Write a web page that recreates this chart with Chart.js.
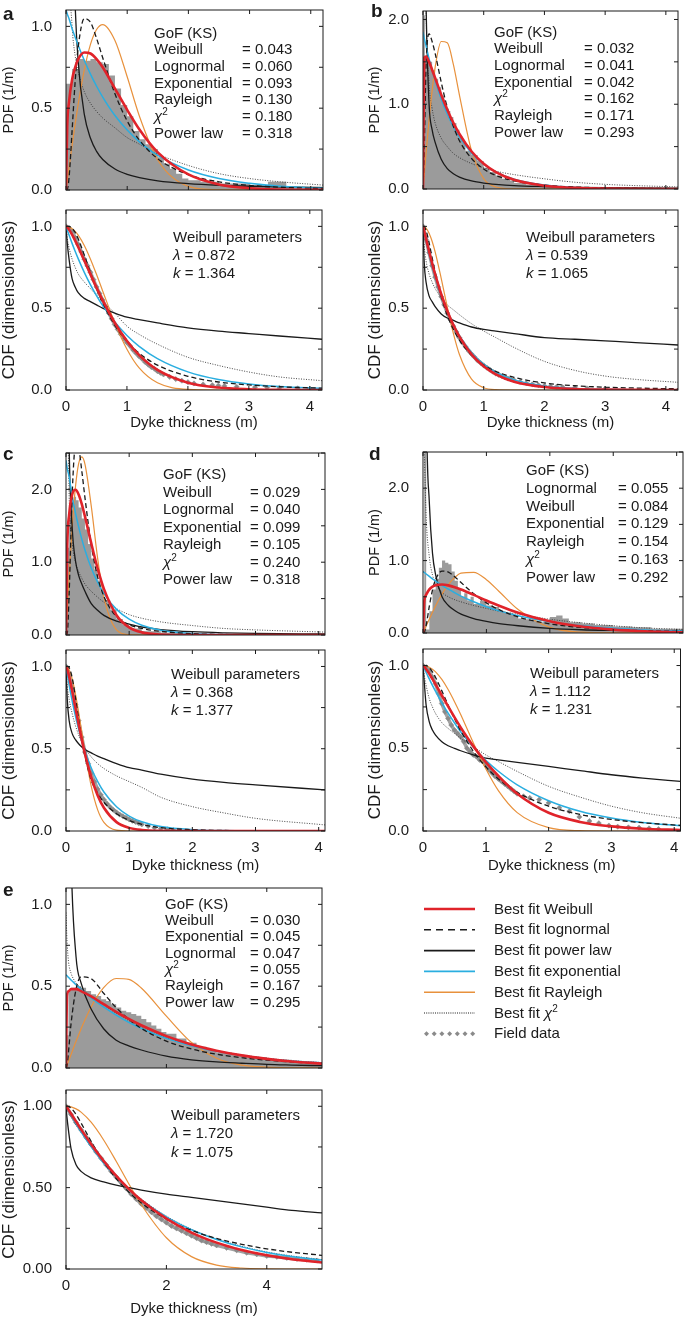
<!DOCTYPE html>
<html>
<head>
<meta charset="utf-8">
<title>Dyke thickness distributions</title>
<script src="https://cdn.jsdelivr.net/npm/chart.js@4.4.1/dist/chart.umd.min.js"></script>
<style>
  html, body { margin: 0; padding: 0; background: #fff; }
  body { position: relative; width: 685px; height: 1318px; overflow: hidden;
         font-family: "Liberation Sans", Arial, Helvetica, sans-serif; color: #1a1a1a; }
  canvas { position: absolute; }
  .txt { position: absolute; font-size: 15px; white-space: nowrap; z-index: 2; }
  .txt .row { position: relative; }
  .txt sup { font-size: 10px; line-height: 0; vertical-align: 6px; }
  .letter { position: absolute; font-size: 19px; font-weight: bold; line-height: 19px; z-index: 2; }
</style>
</head>
<body>
<script>
// ---------- panel a ----------
const xA = [0, 0.02, 0.05, 0.1, 0.15, 0.2, 0.3, 0.4, 0.5, 0.6, 0.8, 1.0, 1.2, 1.5, 2.0, 2.5, 3.0, 3.5, 4.2];
const pdfA_weib = [0, 0.39, 0.54, 0.675, 0.75, 0.80, 0.84, 0.834, 0.80, 0.75, 0.62, 0.49, 0.37, 0.23, 0.095, 0.034, 0.011, 0.003, 0.0005];
const pdfA_logn = [0, 0.003, 0.075, 0.365, 0.665, 0.875, 1.048, 1.025, 0.926, 0.808, 0.588, 0.422, 0.305, 0.191, 0.094, 0.050, 0.028, 0.017, 0.009];
const pdfA_expo = [1.1, 1.076, 1.047, 0.985, 0.934, 0.883, 0.791, 0.708, 0.634, 0.568, 0.455, 0.366, 0.294, 0.211, 0.122, 0.070, 0.041, 0.023, 0.011];
const pdfA_pow  = [null, 11, 4.6, 1.92, 1.13, 0.78, 0.46, 0.316, 0.236, 0.186, 0.128, 0.096, 0.076, 0.056, 0.039, 0.029, 0.023, 0.019, 0.015];
const pdfA_rayl = [0, 0.056, 0.138, 0.274, 0.404, 0.526, 0.735, 0.890, 0.981, 1.011, 0.914, 0.692, 0.451, 0.183, 0.022, 0.001, 0, 0, 0];
const pdfA_chi  = [null, 2.4, 1.45, 1.0, 0.82, 0.72, 0.6, 0.53, 0.48, 0.44, 0.38, 0.32, 0.28, 0.22, 0.15, 0.10, 0.07, 0.05, 0.03];
const cdfA_weib = [1, 0.994, 0.980, 0.949, 0.913, 0.874, 0.792, 0.708, 0.626, 0.549, 0.411, 0.299, 0.213, 0.123, 0.045, 0.015, 0.0045, 0.001, 0];
const cdfA_logn = [1, 1, 0.999, 0.989, 0.963, 0.924, 0.825, 0.720, 0.622, 0.536, 0.397, 0.297, 0.225, 0.152, 0.084, 0.049, 0.031, 0.020, 0.011];
const cdfA_expo = [1, 0.978, 0.947, 0.896, 0.848, 0.803, 0.719, 0.644, 0.577, 0.517, 0.415, 0.333, 0.267, 0.192, 0.111, 0.064, 0.037, 0.021, 0.0098];
const cdfA_pow  = [1, 0.90, 0.80, 0.68, 0.63, 0.595, 0.56, 0.54, 0.52, 0.50, 0.47, 0.445, 0.43, 0.41, 0.38, 0.36, 0.345, 0.33, 0.31];
const cdfA_rayl = [1, 0.999, 0.997, 0.986, 0.969, 0.946, 0.883, 0.801, 0.707, 0.607, 0.411, 0.249, 0.135, 0.044, 0.004, 0, 0, 0, 0];
const cdfA_chi  = [1, 0.93, 0.87, 0.80, 0.75, 0.71, 0.66, 0.62, 0.58, 0.54, 0.47, 0.39, 0.34, 0.28, 0.20, 0.15, 0.11, 0.08, 0.057];
const histA_x = [0, 0.1, 0.2, 0.3, 0.4, 0.5, 0.6, 0.7, 0.8, 0.9, 1.0, 1.1, 1.2, 1.3, 1.4, 1.5, 1.6, 1.7, 1.8, 1.9, 2.0, 2.2, 2.5, 3.0, 3.3, 3.6, 4.2];
const histA_y = [0.65, 0.74, 0.80, 0.79, 0.80, 0.78, 0.77, 0.70, 0.62, 0.52, 0.45, 0.36, 0.31, 0.28, 0.25, 0.20, 0.16, 0.13, 0.10, 0.07, 0.06, 0.05, 0.04, 0.03, 0.05, 0.02, 0];
const fieldA_x = [0, 0.05, 0.1, 0.15, 0.2, 0.25, 0.3, 0.35, 0.4, 0.45, 0.5, 0.55, 0.6, 0.65, 0.7, 0.75, 0.8, 0.85, 0.9, 0.95, 1.0, 1.05, 1.1, 1.15, 1.2, 1.25, 1.3, 1.35, 1.4, 1.45, 1.5, 1.55, 1.6, 1.7, 1.8, 1.9, 2.0, 2.1, 2.25, 2.4, 2.5, 2.6, 2.8, 3.1, 3.3, 3.5, 3.8, 4.0];
const fieldA_y = [1.0, 0.99, 0.97, 0.93, 0.89, 0.845, 0.80, 0.76, 0.72, 0.675, 0.63, 0.59, 0.55, 0.51, 0.47, 0.435, 0.40, 0.37, 0.34, 0.315, 0.29, 0.27, 0.245, 0.225, 0.205, 0.19, 0.17, 0.155, 0.14, 0.13, 0.115, 0.105, 0.095, 0.08, 0.067, 0.057, 0.048, 0.04, 0.034, 0.03, 0.027, 0.025, 0.02, 0.017, 0.015, 0.013, 0.01, 0.007];
const gofA_names = ['Weibull', 'Lognormal', 'Exponential', 'Rayleigh', 'χ2', 'Power law'];
const gofA_vals = ['0.043', '0.060', '0.093', '0.130', '0.180', '0.318'];
const parA = ['0.872', '1.364'];

// ---------- panel b ----------
const xB = [0, 0.02, 0.05, 0.1, 0.15, 0.2, 0.3, 0.4, 0.5, 0.6, 0.8, 1.0, 1.2, 1.5, 2.0, 2.5, 3.0, 3.5, 4.2];
const pdfB_weib = [0, 1.547, 1.564, 1.50, 1.407, 1.309, 1.113, 0.936, 0.781, 0.649, 0.442, 0.298, 0.200, 0.108, 0.038, 0.013, 0.004, 0.0014, 0];
const pdfB_logn = [0, 0.45, 1.45, 1.83, 1.74, 1.6, 1.26, 0.96, 0.74, 0.57, 0.36, 0.235, 0.16, 0.096, 0.046, 0.024, 0.014, 0.009, 0.005];
const pdfB_expo = [1.85, 1.78, 1.69, 1.537, 1.40, 1.278, 1.063, 0.884, 0.735, 0.611, 0.423, 0.292, 0.202, 0.115, 0.046, 0.018, 0.007, 0.003, 0.001];
const pdfB_pow  = [null, 4, 2.2, 1.0, 0.7, 0.55, 0.35, 0.24, 0.18, 0.14, 0.095, 0.07, 0.055, 0.04, 0.028, 0.02, 0.015, 0.012, 0.009];
const pdfB_rayl = [0, 0.17, 0.421, 0.815, 1.16, 1.436, 1.74, 1.724, 1.47, 1.108, 0.449, 0.121, 0.023, 0.001, 0, 0, 0, 0, 0];
const pdfB_chi  = [null, 5, 2.2, 1.25, 0.95, 0.78, 0.6, 0.5, 0.42, 0.37, 0.3, 0.25, 0.21, 0.17, 0.12, 0.08, 0.055, 0.04, 0.025];
const cdfB_weib = [1, 0.970, 0.924, 0.847, 0.774, 0.706, 0.585, 0.483, 0.397, 0.326, 0.218, 0.145, 0.096, 0.051, 0.018, 0.006, 0.002, 0.0007, 0];
const cdfB_logn = [1, 0.998, 0.976, 0.900, 0.809, 0.722, 0.572, 0.458, 0.371, 0.305, 0.212, 0.153, 0.114, 0.077, 0.043, 0.026, 0.017, 0.012, 0.007];
const cdfB_expo = [1, 0.964, 0.912, 0.831, 0.758, 0.691, 0.574, 0.477, 0.397, 0.330, 0.228, 0.157, 0.109, 0.062, 0.025, 0.0098, 0.0039, 0.0015, 0.0004];
const cdfB_pow  = [1, 0.78, 0.66, 0.575, 0.54, 0.51, 0.465, 0.44, 0.425, 0.41, 0.385, 0.37, 0.36, 0.345, 0.32, 0.31, 0.30, 0.29, 0.275];
const cdfB_rayl = [1, 0.998, 0.989, 0.958, 0.909, 0.844, 0.682, 0.507, 0.346, 0.217, 0.066, 0.014, 0.002, 0, 0, 0, 0, 0, 0];
const cdfB_chi  = [1, 0.88, 0.79, 0.71, 0.66, 0.62, 0.565, 0.52, 0.49, 0.46, 0.405, 0.36, 0.32, 0.26, 0.175, 0.12, 0.085, 0.065, 0.047];
const histB_x = [0, 0.03, 0.1, 0.15, 0.2, 0.25, 0.3, 0.35, 0.4, 0.45, 0.5, 0.55, 0.6, 0.65, 0.7, 0.8, 0.9, 1.0, 1.1, 1.2, 1.3, 1.4, 1.5, 1.7, 1.9, 2.2, 2.6, 3.0];
const histB_y = [2.05, 1.55, 1.5, 1.4, 1.3, 1.2, 1.1, 1.0, 0.92, 0.85, 0.78, 0.7, 0.62, 0.55, 0.45, 0.4, 0.33, 0.25, 0.2, 0.16, 0.12, 0.1, 0.07, 0.05, 0.035, 0.02, 0.01, 0];
const fieldB_x = [0, 0.05, 0.1, 0.15, 0.2, 0.25, 0.3, 0.35, 0.4, 0.45, 0.5, 0.55, 0.6, 0.65, 0.7, 0.75, 0.8, 0.85, 0.9, 0.95, 1.0, 1.05, 1.1, 1.15, 1.2, 1.25, 1.3, 1.35, 1.4, 1.45, 1.5, 1.6, 1.7, 1.8, 1.9, 2.0, 2.1, 2.2, 2.3, 2.5, 2.7, 3.0];
const fieldB_y = [1, 0.92, 0.84, 0.76, 0.69, 0.63, 0.57, 0.52, 0.47, 0.43, 0.39, 0.355, 0.32, 0.29, 0.265, 0.24, 0.22, 0.2, 0.18, 0.165, 0.15, 0.137, 0.125, 0.112, 0.10, 0.092, 0.085, 0.077, 0.07, 0.065, 0.06, 0.05, 0.042, 0.035, 0.03, 0.025, 0.022, 0.02, 0.017, 0.013, 0.01, 0.008];
const gofB_names = ['Weibull', 'Lognormal', 'Exponential', 'χ2', 'Rayleigh', 'Power law'];
const gofB_vals = ['0.032', '0.041', '0.042', '0.162', '0.171', '0.293'];
const parB = ['0.539', '1.065'];

// ---------- panel c ----------
const xC = [0, 0.02, 0.05, 0.1, 0.15, 0.2, 0.25, 0.3, 0.4, 0.5, 0.6, 0.8, 1.0, 1.2, 1.5, 2, 2.5, 3, 4.1];
const pdfC_weib = [0, 1.226, 1.654, 1.939, 1.995, 1.931, 1.798, 1.629, 1.258, 0.914, 0.634, 0.272, 0.104, 0.036, 0.007, 0, 0, 0, 0];
const pdfC_logn = [0, 0.025, 0.572, 1.976, 2.588, 2.557, 2.254, 1.887, 1.241, 0.8, 0.53, 0.25, 0.14, 0.09, 0.05, 0.018, 0.007, 0.003, 0];
const pdfC_expo = [2.4, 2.287, 2.172, 1.887, 1.674, 1.486, 1.317, 1.168, 0.919, 0.726, 0.569, 0.352, 0.218, 0.135, 0.066, 0.020, 0.006, 0.002, 0];
const pdfC_pow  = [null, 5, 2.6, 1.45, 1.02, 0.82, 0.7, 0.6, 0.43, 0.34, 0.27, 0.19, 0.15, 0.11, 0.075, 0.045, 0.03, 0.022, 0.014];
const pdfC_rayl = [0, 0.325, 0.799, 1.503, 2.036, 2.354, 2.448, 2.348, 1.770, 1.060, 0.519, 0.071, 0.005, 0, 0, 0, 0, 0, 0];
const pdfC_chi  = [null, 3.5, 1.9, 1.25, 1.0, 0.87, 0.78, 0.7, 0.6, 0.52, 0.45, 0.36, 0.28, 0.23, 0.18, 0.13, 0.09, 0.07, 0.04];
const cdfC_weib = [1, 0.982, 0.938, 0.847, 0.748, 0.649, 0.556, 0.470, 0.326, 0.218, 0.141, 0.054, 0.019, 0.006, 0.001, 0, 0, 0, 0];
const cdfC_logn = [1, 1, 0.993, 0.927, 0.810, 0.679, 0.558, 0.455, 0.31, 0.23, 0.175, 0.105, 0.065, 0.04, 0.02, 0.008, 0.003, 0.001, 0];
const cdfC_expo = [1, 0.953, 0.887, 0.787, 0.698, 0.619, 0.549, 0.487, 0.383, 0.301, 0.237, 0.147, 0.091, 0.056, 0.027, 0.008, 0.0025, 0.0008, 0];
const cdfC_pow  = [1, 0.80, 0.67, 0.59, 0.555, 0.53, 0.51, 0.495, 0.475, 0.455, 0.44, 0.41, 0.385, 0.37, 0.345, 0.315, 0.295, 0.28, 0.25];
const cdfC_rayl = [1, 0.997, 0.980, 0.922, 0.832, 0.721, 0.600, 0.480, 0.271, 0.130, 0.053, 0.005, 0, 0, 0, 0, 0, 0, 0];
const cdfC_chi  = [1, 0.88, 0.80, 0.71, 0.64, 0.585, 0.54, 0.505, 0.45, 0.41, 0.38, 0.335, 0.30, 0.265, 0.205, 0.148, 0.11, 0.077, 0.037];
const histC_x = [0, 0.02, 0.05, 0.08, 0.12, 0.16, 0.2, 0.25, 0.3, 0.35, 0.4, 0.45, 0.5, 0.55, 0.6, 0.7, 0.8, 0.9, 1.0, 1.2, 1.5, 2.0, 3.0, 4.0];
const histC_y = [0.3, 1.2, 1.7, 1.85, 1.9, 1.85, 1.75, 1.6, 1.45, 1.25, 1.05, 0.9, 0.75, 0.6, 0.48, 0.35, 0.22, 0.14, 0.09, 0.05, 0.03, 0.015, 0.005, 0];
const fieldC_x = [0, 0.05, 0.1, 0.15, 0.2, 0.25, 0.3, 0.35, 0.4, 0.45, 0.5, 0.55, 0.6, 0.65, 0.7, 0.75, 0.8, 0.85, 0.9, 0.95, 1.0, 1.05, 1.1, 1.15, 1.2, 1.3, 1.4, 1.5, 1.6, 1.7];
const fieldC_y = [1, 0.95, 0.87, 0.77, 0.67, 0.57, 0.48, 0.41, 0.35, 0.30, 0.255, 0.22, 0.19, 0.165, 0.145, 0.128, 0.113, 0.1, 0.09, 0.08, 0.07, 0.062, 0.055, 0.047, 0.04, 0.03, 0.02, 0.015, 0.01, 0.006];
const gofC_names = ['Weibull', 'Lognormal', 'Exponential', 'Rayleigh', 'χ2', 'Power law'];
const gofC_vals = ['0.029', '0.040', '0.099', '0.105', '0.240', '0.318'];
const parC = ['0.368', '1.377'];

// ---------- panel d ----------
const xD = [0, 0.02, 0.05, 0.1, 0.15, 0.2, 0.3, 0.4, 0.5, 0.6, 0.8, 1, 1.2, 1.5, 2, 2.5, 3, 3.5, 4.1];
const pdfD_weib = [0, 0.435, 0.529, 0.602, 0.640, 0.660, 0.670, 0.658, 0.633, 0.601, 0.527, 0.449, 0.376, 0.280, 0.162, 0.089, 0.047, 0.024, 0.010];
const pdfD_logn = [0, 0.008, 0.105, 0.371, 0.596, 0.742, 0.856, 0.842, 0.777, 0.697, 0.542, 0.416, 0.322, 0.222, 0.126, 0.076, 0.048, 0.032, 0.020];
const pdfD_expo = [0.85, 0.836, 0.815, 0.781, 0.748, 0.718, 0.659, 0.605, 0.556, 0.510, 0.431, 0.363, 0.306, 0.238, 0.155, 0.101, 0.066, 0.043, 0.026];
const pdfD_pow  = [null, 9, 3.5, 1.8, 1.1, 0.8, 0.5, 0.38, 0.31, 0.26, 0.2, 0.16, 0.13, 0.1, 0.065, 0.045, 0.035, 0.028, 0.022];
const pdfD_rayl = [0, 0.039, 0.098, 0.194, 0.287, 0.376, 0.538, 0.669, 0.766, 0.826, 0.837, 0.736, 0.574, 0.325, 0.078, 0.011, 0.001, 0, 0];
const pdfD_chi  = [null, 2.5, 1.6, 1.05, 0.8, 0.68, 0.56, 0.5, 0.46, 0.43, 0.38, 0.34, 0.3, 0.26, 0.19, 0.14, 0.1, 0.07, 0.05];
const cdfD_weib = [1, 0.993, 0.978, 0.950, 0.919, 0.886, 0.819, 0.753, 0.688, 0.626, 0.513, 0.416, 0.333, 0.225, 0.11, 0.055, 0.028, 0.014, 0.006];
const cdfD_logn = [1, 1, 0.999, 0.987, 0.962, 0.928, 0.847, 0.761, 0.680, 0.606, 0.483, 0.388, 0.315, 0.234, 0.150, 0.100, 0.070, 0.050, 0.034];
const cdfD_expo = [1, 0.983, 0.958, 0.919, 0.880, 0.844, 0.775, 0.712, 0.654, 0.600, 0.507, 0.427, 0.361, 0.279, 0.183, 0.119, 0.078, 0.051, 0.031];
const cdfD_pow  = [1, 0.9, 0.76, 0.66, 0.61, 0.58, 0.54, 0.515, 0.5, 0.485, 0.46, 0.44, 0.43, 0.415, 0.39, 0.365, 0.34, 0.32, 0.30];
const cdfD_rayl = [1, 1, 0.998, 0.990, 0.978, 0.962, 0.916, 0.855, 0.783, 0.704, 0.534, 0.376, 0.244, 0.111, 0.020, 0.002, 0, 0, 0];
const cdfD_chi  = [1, 0.94, 0.88, 0.80, 0.75, 0.71, 0.655, 0.62, 0.59, 0.56, 0.51, 0.46, 0.42, 0.36, 0.27, 0.205, 0.15, 0.11, 0.077];
const histD_x = [0, 0.02, 0.05, 0.1, 0.15, 0.2, 0.25, 0.3, 0.35, 0.4, 0.45, 0.5, 0.55, 0.6, 0.65, 0.7, 0.75, 0.8, 0.9, 1.0, 1.1, 1.2, 1.3, 1.4, 1.5, 1.6, 1.7, 1.8, 1.9, 2.0, 2.1, 2.2, 2.3, 2.5, 2.7, 3.0, 3.3, 3.6, 4.1];
const histD_y = [0, 2.6, 0.05, 0.3, 0.6, 0.75, 0.9, 1.0, 0.97, 0.95, 0.85, 0.72, 0.6, 0.5, 0.55, 0.45, 0.5, 0.4, 0.45, 0.38, 0.36, 0.3, 0.28, 0.25, 0.2, 0.19, 0.17, 0.15, 0.16, 0.22, 0.24, 0.2, 0.15, 0.13, 0.11, 0.09, 0.08, 0.06, 0];
const fieldD_x = [0, 0.05, 0.1, 0.15, 0.2, 0.25, 0.3, 0.35, 0.4, 0.45, 0.5, 0.55, 0.6, 0.65, 0.7, 0.75, 0.8, 0.85, 0.9, 0.95, 1.0, 1.05, 1.1, 1.15, 1.2, 1.25, 1.3, 1.35, 1.4, 1.45, 1.5, 1.6, 1.7, 1.85, 2.0, 2.17, 2.33, 2.49, 2.65, 2.8, 2.96, 3.1, 3.27, 3.44, 3.6, 3.75];
const fieldD_y = [1, 0.99, 0.97, 0.93, 0.89, 0.83, 0.77, 0.72, 0.68, 0.64, 0.61, 0.59, 0.57, 0.54, 0.5, 0.48, 0.46, 0.45, 0.43, 0.42, 0.40, 0.37, 0.35, 0.33, 0.315, 0.30, 0.285, 0.27, 0.255, 0.24, 0.225, 0.21, 0.2, 0.19, 0.17, 0.14, 0.12, 0.085, 0.06, 0.047, 0.033, 0.026, 0.022, 0.02, 0.016, 0.012];
const gofD_names = ['Lognormal', 'Weibull', 'Exponential', 'Rayleigh', 'χ2', 'Power law'];
const gofD_vals = ['0.055', '0.084', '0.129', '0.154', '0.163', '0.292'];
const parD = ['1.112', '1.231'];

// ---------- panel e ----------
const xE = [0, 0.02, 0.05, 0.1, 0.2, 0.3, 0.5, 0.75, 1, 1.25, 1.5, 2, 2.5, 3, 3.5, 4, 4.5, 5.1];
const pdfE_weib = [0, 0.444, 0.469, 0.482, 0.482, 0.470, 0.437, 0.390, 0.343, 0.300, 0.261, 0.195, 0.144, 0.106, 0.077, 0.056, 0.040, 0.027];
const pdfE_logn = [0, 0.014, 0.099, 0.269, 0.482, 0.557, 0.546, 0.457, 0.369, 0.298, 0.242, 0.164, 0.116, 0.084, 0.063, 0.048, 0.037, 0.028];
const pdfE_expo = [0.57, 0.564, 0.554, 0.538, 0.509, 0.480, 0.429, 0.373, 0.323, 0.279, 0.242, 0.181, 0.136, 0.102, 0.076, 0.057, 0.043, 0.031];
const pdfE_pow  = [null, 6, 2.4, 1.3, 0.68, 0.52, 0.36, 0.24, 0.17, 0.135, 0.11, 0.072, 0.05, 0.037, 0.029, 0.022, 0.018, 0.014];
const pdfE_rayl = [0, 0.017, 0.041, 0.082, 0.163, 0.239, 0.373, 0.491, 0.547, 0.542, 0.489, 0.317, 0.156, 0.060, 0.018, 0.005, 0.001, 0];
const pdfE_chi  = [0.95, 0.78, 0.65, 0.58, 0.52, 0.49, 0.44, 0.385, 0.335, 0.29, 0.25, 0.185, 0.14, 0.105, 0.08, 0.06, 0.045, 0.033];
const cdfE_weib = [1, 0.992, 0.978, 0.954, 0.906, 0.858, 0.767, 0.664, 0.572, 0.492, 0.422, 0.309, 0.224, 0.162, 0.117, 0.084, 0.060, 0.040];
const cdfE_logn = [1, 1, 0.998, 0.989, 0.950, 0.897, 0.785, 0.659, 0.556, 0.473, 0.406, 0.306, 0.237, 0.188, 0.152, 0.124, 0.103, 0.084];
const cdfE_expo = [1, 0.989, 0.972, 0.945, 0.892, 0.843, 0.752, 0.652, 0.566, 0.490, 0.425, 0.320, 0.241, 0.181, 0.136, 0.102, 0.077, 0.055];
const cdfE_pow  = [1, 0.93, 0.85, 0.74, 0.64, 0.6, 0.56, 0.535, 0.515, 0.5, 0.485, 0.46, 0.44, 0.42, 0.40, 0.38, 0.36, 0.345];
const cdfE_rayl = [1, 1, 0.999, 0.996, 0.984, 0.964, 0.902, 0.793, 0.662, 0.524, 0.395, 0.192, 0.076, 0.024, 0.006, 0.001, 0, 0];
const cdfE_chi  = [1, 0.985, 0.965, 0.935, 0.885, 0.84, 0.75, 0.655, 0.57, 0.495, 0.43, 0.325, 0.245, 0.185, 0.14, 0.105, 0.08, 0.058];
const histE_x = [0, 0.05, 0.1, 0.2, 0.3, 0.4, 0.5, 0.6, 0.7, 0.8, 0.9, 1.0, 1.1, 1.2, 1.3, 1.4, 1.5, 1.6, 1.7, 1.8, 1.9, 2.0, 2.2, 2.4, 2.6, 2.8, 3.0, 3.3, 3.6, 4.0, 4.5, 5.1];
const histE_y = [0.2, 0.47, 0.49, 0.5, 0.49, 0.47, 0.45, 0.44, 0.42, 0.41, 0.39, 0.37, 0.35, 0.34, 0.33, 0.32, 0.30, 0.28, 0.26, 0.24, 0.22, 0.21, 0.18, 0.155, 0.13, 0.11, 0.095, 0.08, 0.065, 0.05, 0.035, 0];
const fieldE_x = [0, 0.1, 0.2, 0.3, 0.4, 0.5, 0.6, 0.7, 0.8, 0.9, 1.0, 1.1, 1.2, 1.3, 1.4, 1.5, 1.6, 1.7, 1.8, 1.9, 2.0, 2.1, 2.2, 2.3, 2.4, 2.5, 2.6, 2.7, 2.8, 2.9, 3.0, 3.2, 3.4, 3.6, 3.8, 4.0, 4.2, 4.4, 4.6, 4.8, 5.0];
const fieldE_y = [1, 0.95, 0.9, 0.855, 0.81, 0.765, 0.72, 0.68, 0.64, 0.60, 0.565, 0.53, 0.495, 0.46, 0.43, 0.40, 0.375, 0.35, 0.325, 0.305, 0.285, 0.265, 0.25, 0.235, 0.22, 0.205, 0.19, 0.175, 0.165, 0.155, 0.145, 0.13, 0.115, 0.10, 0.09, 0.08, 0.075, 0.068, 0.062, 0.057, 0.052];
const gofE_names = ['Weibull', 'Exponential', 'Lognormal', 'χ2', 'Rayleigh', 'Power law'];
const gofE_vals = ['0.030', '0.045', '0.047', '0.055', '0.167', '0.295'];
const parE = ['1.720', '1.075'];

const legendLabels = ['Best fit Weibull', 'Best fit lognormal', 'Best fit power law', 'Best fit exponential', 'Best fit Rayleigh', 'Best fit χ2', 'Field data'];

// ---------- drawing ----------
Chart.defaults.font.family = '"Liberation Sans", Arial, Helvetica, sans-serif';
Chart.defaults.font.size = 15;
Chart.defaults.color = '#1a1a1a';

const RED = '#e0232a', CYAN = '#2aaee0', ORANGE = '#e8913c', HIST = '#9b9b9b', FIELD = '#8a8a8a', INK = '#1a1a1a';

// box round the plot area, with inward ticks on all four sides
const frame = {
  id: 'frame',
  afterDatasetsDraw(chart) {
    const { ctx, chartArea: a, scales: { x, y } } = chart;
    ctx.save();
    ctx.strokeStyle = INK;
    ctx.lineWidth = 1;
    ctx.strokeRect(a.left, a.top, a.right - a.left, a.bottom - a.top);
    ctx.beginPath();
    x.ticks.forEach(t => {
      const px = x.getPixelForValue(t.value);
      ctx.moveTo(px, a.bottom); ctx.lineTo(px, a.bottom - 4);
      ctx.moveTo(px, a.top); ctx.lineTo(px, a.top + 4);
    });
    y.ticks.forEach(t => {
      const py = y.getPixelForValue(t.value);
      ctx.moveTo(a.left, py); ctx.lineTo(a.left + 4, py);
      ctx.moveTo(a.right, py); ctx.lineTo(a.right - 4, py);
    });
    ctx.stroke();
    ctx.restore();
  }
};

function pts(xs, ys) {
  return ys.map((y, i) => ({ x: xs[i], y: y }));
}

function curves(xs, weib, logn, expo, pow, rayl, chi) {
  const base = { pointRadius: 0, fill: false, cubicInterpolationMode: 'monotone' };
  return [
    { ...base, data: pts(xs, weib), borderColor: RED, borderWidth: 2.6 },
    { ...base, data: pts(xs, logn), borderColor: INK, borderWidth: 1.3, borderDash: [5, 3] },
    { ...base, data: pts(xs, expo), borderColor: CYAN, borderWidth: 1.5 },
    { ...base, data: pts(xs, pow), borderColor: INK, borderWidth: 1.3 },
    { ...base, data: pts(xs, rayl), borderColor: ORANGE, borderWidth: 1.2 },
    { ...base, data: pts(xs, chi), borderColor: '#333', borderWidth: 0.9, borderDash: [1, 1.5] }
  ];
}

function histSet(hx, hy) {
  return { data: pts(hx, hy), stepped: true, fill: 'origin', backgroundColor: HIST,
           borderColor: 'rgba(0,0,0,0)', borderWidth: 0.1, pointRadius: 0 };
}

function fieldSet(fx, fy, gap) {
  return {
    data: pts(fx, fy), showLine: true, borderColor: '#a3a3a3', borderWidth: 3.5,
    pointStyle: 'rectRot', pointRadius: 2.6, pointBackgroundColor: FIELD,
    pointBorderColor: FIELD, pointBorderWidth: 0.5,
    segment: { borderColor: c => (c.p1.parsed.x - c.p0.parsed.x > gap ? 'rgba(0,0,0,0)' : '#a3a3a3') }
  };
}

function makeChart(box, o, datasets) {
  const colLeft = box.col ? 340 : 0, colW = box.col ? 345 : 340;
  const padT = 20, padB = o.cdf ? 0 : 20, xh = o.cdf ? o.xh : 0;
  const top = box.top - padT;
  const height = box.bottom + (o.cdf ? xh : padB) - top;
  const cv = document.createElement('canvas');
  cv.width = colW; cv.height = height;
  cv.style.left = colLeft + 'px'; cv.style.top = top + 'px';
  document.body.appendChild(cv);
  const yw = box.left - colLeft, padR = colLeft + colW - box.right;
  const lab = v => (Math.abs(v / o.lstep - Math.round(v / o.lstep)) < 1e-6 ? v.toFixed(o.dec) : '');
  // CDF axis titles are set a little larger than the PDF ones, as in the figure
  const tSize = o.cdf ? 17 : 14.5;
  new Chart(cv, {
    type: 'line',
    data: { datasets },
    options: {
      responsive: false, animation: false, devicePixelRatio: 1,
      layout: { padding: { left: 0, top: padT, right: padR, bottom: padB } },
      plugins: { legend: { display: false }, tooltip: { enabled: false } },
      scales: {
        x: {
          type: 'linear', min: 0, max: o.xmax,
          grid: { display: false }, border: { display: false },
          ticks: { display: !!o.cdf, stepSize: o.xstep, includeBounds: false, padding: 0,
                   maxRotation: 0, autoSkip: false, callback: v => String(v) },
          title: { display: !!o.cdf, text: 'Dyke thickness (m)', padding: { top: 0, bottom: o.xtp || 0 } },
          afterFit: s => { s.height = xh; }
        },
        y: {
          type: 'linear', min: 0, max: o.ymax,
          grid: { display: false }, border: { display: false },
          ticks: { stepSize: o.ystep, includeBounds: false, padding: 6, autoSkip: false, callback: lab },
          title: { display: true, text: o.ytitle, font: { size: tSize },
                   padding: { top: (box.col ? 35 : 9) - tSize * 0.6, bottom: 0 } },
          afterFit: s => { s.width = yw; }
        }
      }
    },
    plugins: [frame]
  });
}

function nameHtml(n) {
  return n === 'χ2' ? '<i>χ</i><sup>2</sup>' : n;
}

function gof(left, mid, lh, valX, names, vals) {
  const d = document.createElement('div');
  d.className = 'txt';
  d.style.left = left + 'px';
  d.style.top = (mid - lh / 2) + 'px';
  let h = `<div class="row" style="height:${lh}px;line-height:${lh}px">GoF (KS)</div>`;
  names.forEach((n, i) => {
    h += `<div class="row" style="height:${lh}px;line-height:${lh}px"><span>${nameHtml(n)}</span>` +
         `<span style="position:absolute;left:${valX - left}px;top:0">= ${vals[i]}</span></div>`;
  });
  d.innerHTML = h;
  document.body.appendChild(d);
}

function params(left, mid, lh, p) {
  const d = document.createElement('div');
  d.className = 'txt';
  d.style.left = left + 'px';
  d.style.top = (mid - lh / 2) + 'px';
  d.style.lineHeight = lh + 'px';
  d.innerHTML = `<div>Weibull parameters</div><div><i>λ</i> = ${p[0]}</div><div><i>k</i> = ${p[1]}</div>`;
  document.body.appendChild(d);
}

function letter(ch, left, baseline) {
  const d = document.createElement('div');
  d.className = 'letter';
  d.style.left = left + 'px';
  d.style.top = (baseline - 15.8) + 'px';
  d.textContent = ch;
  document.body.appendChild(d);
}

function legend() {
  const x0 = 424, x1 = 475, tx = 494, y0 = 909, dy = 20.8;
  const strokes = [
    `stroke="${RED}" stroke-width="2.6"`,
    `stroke="${INK}" stroke-width="1.4" stroke-dasharray="7 5"`,
    `stroke="${INK}" stroke-width="1.6"`,
    `stroke="${CYAN}" stroke-width="1.8"`,
    `stroke="${ORANGE}" stroke-width="1.4"`,
    `stroke="${INK}" stroke-width="1" stroke-dasharray="1 1.2"`
  ];
  let svg = `<svg xmlns="http://www.w3.org/2000/svg" width="685" height="1318" style="position:absolute;left:0;top:0;z-index:1">`;
  strokes.forEach((s, i) => {
    const y = y0 + i * dy;
    svg += `<line x1="${x0}" y1="${y}" x2="${x1}" y2="${y}" ${s}/>`;
  });
  const yf = y0 + 6 * dy;
  for (let j = 0; j < 7; j++) {
    const cx = x0 + 2.5 + j * 7.7;
    svg += `<polygon points="${cx},${yf - 2.5} ${cx + 2.5},${yf} ${cx},${yf + 2.5} ${cx - 2.5},${yf}" fill="${FIELD}"/>`;
  }
  svg += '</svg>';
  const holder = document.createElement('div');
  holder.innerHTML = svg;
  document.body.appendChild(holder.firstChild);

  const d = document.createElement('div');
  d.className = 'txt';
  d.style.left = tx + 'px';
  d.style.top = (y0 - dy / 2) + 'px';
  d.style.lineHeight = dy + 'px';
  d.innerHTML = legendLabels.map(t => `<div>${t.replace('χ2', '<i>χ</i><sup>2</sup>')}</div>`).join('');
  document.body.appendChild(d);
}

// panel a
makeChart({ col: 0, top: 10, bottom: 190, left: 66, right: 323 },
  { xmax: 4.2, xstep: 1, ymax: 1.1, ystep: 0.25, lstep: 0.5, dec: 1, ytitle: 'PDF (1/m)' },
  [...curves(xA, pdfA_weib, pdfA_logn, pdfA_expo, pdfA_pow, pdfA_rayl, pdfA_chi), histSet(histA_x, histA_y)]);
makeChart({ col: 0, top: 210, bottom: 390, left: 66, right: 322 },
  { cdf: true, xh: 45, xtp: 3, xmax: 4.2, xstep: 1, ymax: 1.1, ystep: 0.25, lstep: 0.5, dec: 1, ytitle: 'CDF (dimensionless)' },
  [...curves(xA, cdfA_weib, cdfA_logn, cdfA_expo, cdfA_pow, cdfA_rayl, cdfA_chi), fieldSet(fieldA_x, fieldA_y, 0.06)]);

// panel b
makeChart({ col: 1, top: 11, bottom: 189, left: 423, right: 678 },
  { xmax: 4.2, xstep: 1, ymax: 2.1, ystep: 0.5, lstep: 1, dec: 1, ytitle: 'PDF (1/m)' },
  [...curves(xB, pdfB_weib, pdfB_logn, pdfB_expo, pdfB_pow, pdfB_rayl, pdfB_chi), histSet(histB_x, histB_y)]);
makeChart({ col: 1, top: 210, bottom: 390, left: 423, right: 678 },
  { cdf: true, xh: 45, xtp: 3, xmax: 4.2, xstep: 1, ymax: 1.1, ystep: 0.25, lstep: 0.5, dec: 1, ytitle: 'CDF (dimensionless)' },
  [...curves(xB, cdfB_weib, cdfB_logn, cdfB_expo, cdfB_pow, cdfB_rayl, cdfB_chi), fieldSet(fieldB_x, fieldB_y, 0.06)]);

// panel c
makeChart({ col: 0, top: 453, bottom: 635, left: 66, right: 325 },
  { xmax: 4.1, xstep: 1, ymax: 2.5, ystep: 0.5, lstep: 1, dec: 1, ytitle: 'PDF (1/m)' },
  [...curves(xC, pdfC_weib, pdfC_logn, pdfC_expo, pdfC_pow, pdfC_rayl, pdfC_chi), histSet(histC_x, histC_y)]);
makeChart({ col: 0, top: 650, bottom: 831, left: 66, right: 325 },
  { cdf: true, xh: 45, xtp: 1, xmax: 4.1, xstep: 1, ymax: 1.1, ystep: 0.25, lstep: 0.5, dec: 1, ytitle: 'CDF (dimensionless)' },
  [...curves(xC, cdfC_weib, cdfC_logn, cdfC_expo, cdfC_pow, cdfC_rayl, cdfC_chi), fieldSet(fieldC_x, fieldC_y, 0.06)]);

// panel d
makeChart({ col: 1, top: 452, bottom: 633, left: 423, right: 683 },
  { xmax: 4.1, xstep: 1, ymax: 2.5, ystep: 0.5, lstep: 1, dec: 1, ytitle: 'PDF (1/m)' },
  [...curves(xD, pdfD_weib, pdfD_logn, pdfD_expo, pdfD_pow, pdfD_rayl, pdfD_chi), histSet(histD_x, histD_y)]);
makeChart({ col: 1, top: 649, bottom: 831, left: 423, right: 683 },
  { cdf: true, xh: 45, xtp: 1, xmax: 4.1, xstep: 1, ymax: 1.1, ystep: 0.25, lstep: 0.5, dec: 1, ytitle: 'CDF (dimensionless)' },
  [...curves(xD, cdfD_weib, cdfD_logn, cdfD_expo, cdfD_pow, cdfD_rayl, cdfD_chi), fieldSet(fieldD_x, fieldD_y, 0.06)]);

// panel e
makeChart({ col: 0, top: 888, bottom: 1068, left: 66, right: 322 },
  { xmax: 5.1, xstep: 2, ymax: 1.1, ystep: 0.25, lstep: 0.5, dec: 1, ytitle: 'PDF (1/m)' },
  [...curves(xE, pdfE_weib, pdfE_logn, pdfE_expo, pdfE_pow, pdfE_rayl, pdfE_chi), histSet(histE_x, histE_y)]);
makeChart({ col: 0, top: 1090, bottom: 1269, left: 66, right: 322 },
  { cdf: true, xh: 49, xtp: 0, xmax: 5.1, xstep: 2, ymax: 1.1, ystep: 0.25, lstep: 0.5, dec: 2, ytitle: 'CDF (dimensionless)' },
  [...curves(xE, cdfE_weib, cdfE_logn, cdfE_expo, cdfE_pow, cdfE_rayl, cdfE_chi), fieldSet(fieldE_x, fieldE_y, 0.21)]);

// text blocks
gof(154, 33, 16.7, 242, gofA_names, gofA_vals);
gof(494, 32, 16.7, 584, gofB_names, gofB_vals);
gof(163, 474, 17.5, 250, gofC_names, gofC_vals);
gof(526, 470, 17.8, 618, gofD_names, gofD_vals);
gof(165, 904, 16.3, 250, gofE_names, gofE_vals);

params(173, 237, 18, parA);
params(526, 237, 18, parB);
params(171, 674, 18, parC);
params(530, 673, 18, parD);
params(171, 1115, 18.5, parE);

letter('a', 3, 20);
letter('b', 371, 17);
letter('c', 3, 460);
letter('d', 369, 460);
letter('e', 3, 896);

legend();
</script>
</body>
</html>
